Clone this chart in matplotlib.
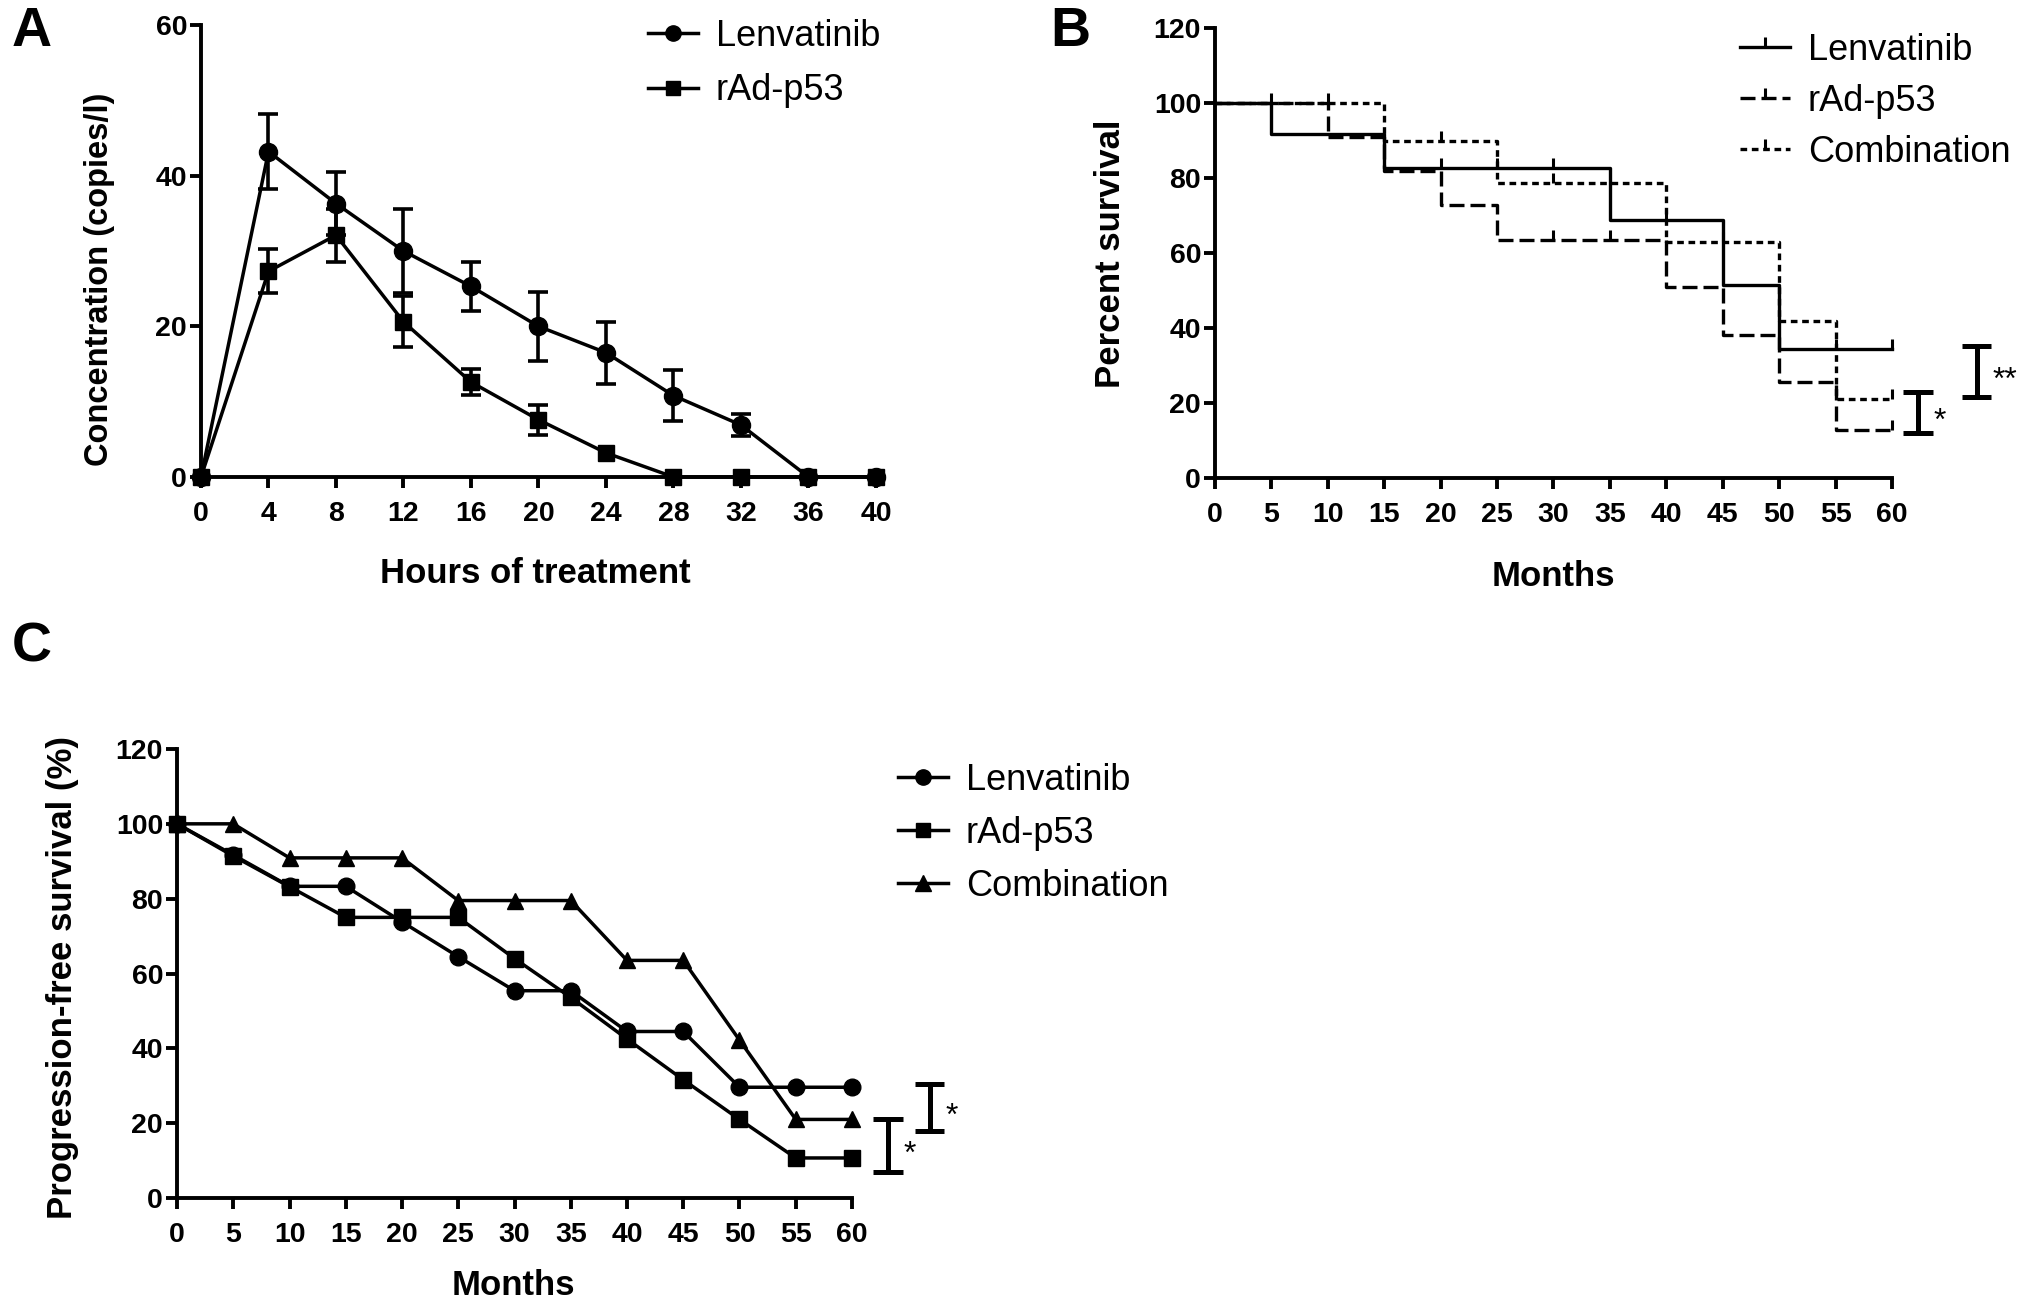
import matplotlib
matplotlib.use('Agg')
import matplotlib.pyplot as plt
from matplotlib.lines import Line2D
from matplotlib.path import Path
import numpy as np

plt.rcParams['font.family'] = ['Liberation Sans', 'DejaVu Sans']

# ---------------- Panel A data ----------------
hours = [0, 4, 8, 12, 16, 20, 24, 28, 32, 36, 40]
lenv_conc = [0, 43.2, 36.3, 30.0, 25.3, 20.0, 16.5, 10.8, 6.9, 0, 0]
lenv_err = [0, 5.0, 4.2, 5.6, 3.2, 4.6, 4.1, 3.4, 1.5, 0, 0]
rad_conc = [0, 27.3, 32.1, 20.6, 12.6, 7.6, 3.2, 0, 0, 0, 0]
rad_err = [0, 2.9, 3.5, 3.4, 1.7, 2.0, 0, 0, 0, 0, 0]
a_xticks = [0, 4, 8, 12, 16, 20, 24, 28, 32, 36, 40]
a_yticks = [0, 20, 40, 60]

# ---------------- Panel B data (Kaplan-Meier OS) ----------------
months = [0, 5, 10, 15, 20, 25, 30, 35, 40, 45, 50, 55, 60]
lenv_os = [100, 91.7, 91.7, 82.6, 82.6, 82.6, 82.6, 68.8, 68.8, 51.4, 34.3, 34.3, 34.3]
rad_os = [100, 100, 90.9, 81.8, 72.7, 63.6, 63.6, 63.6, 50.9, 38.2, 25.5, 12.7, 12.7]
comb_os = [100, 100, 100, 90.0, 90.0, 78.8, 78.8, 78.8, 63.0, 63.0, 42.0, 21.0, 21.0]
lenv_censor = [20, 25, 30, 40, 55, 60]
rad_censor = [5, 30, 35, 60]
comb_censor = [10, 20, 30, 45, 60]
b_sig = [(62.3, 11.9, 23.0, '*'), (67.5, 21.7, 35.1, '**')]

# ---------------- Panel C data (PFS) ----------------
lenv_pfs = [100, 91.7, 83.3, 83.3, 73.8, 64.5, 55.4, 55.4, 44.5, 44.5, 29.6, 29.6, 29.6]
rad_pfs = [100, 91.4, 83.2, 75.0, 75.0, 75.0, 64.0, 53.6, 42.5, 31.6, 21.0, 10.7, 10.7]
comb_pfs = [100, 100, 90.9, 90.9, 90.9, 79.5, 79.5, 79.5, 63.5, 63.5, 42.2, 21.0, 21.0]
c_sig = [(63.2, 6.9, 21.1, '*'), (66.9, 17.9, 30.6, '*')]

surv_xticks = [0, 5, 10, 15, 20, 25, 30, 35, 40, 45, 50, 55, 60]
surv_yticks = [0, 20, 40, 60, 80, 100, 120]

W, H = 2031, 1310
fig = plt.figure(figsize=(W / 100, H / 100), dpi=100)

SPINE_LW = 2.8
LINE_LW = 2.5
TICK_FS = 20.5
LABEL_FS = 25
LEG_FS = 26


def style_axes(ax, xticks, yticks, xlim, ylim):
    ax.set_xlim(*xlim)
    ax.set_ylim(*ylim)
    ax.set_xticks(xticks)
    ax.set_yticks(yticks)
    for s in ['top', 'right']:
        ax.spines[s].set_visible(False)
    for s in ['left', 'bottom']:
        ax.spines[s].set_linewidth(SPINE_LW)
    ax.tick_params(axis='both', direction='out', length=8, width=SPINE_LW,
                   labelsize=TICK_FS)
    ax.tick_params(axis='x', pad=9)
    ax.tick_params(axis='y', pad=2)
    for lab in ax.get_xticklabels() + ax.get_yticklabels():
        lab.set_fontweight('bold')


def set_labels(ax, xlabel, ylabel, xpos, ypos, yfs=LABEL_FS):
    ax.set_xlabel(xlabel, fontsize=LABEL_FS, fontweight='bold')
    ax.set_ylabel(ylabel, fontsize=yfs, fontweight='bold')
    ax.xaxis.set_label_coords(*xpos)
    ax.yaxis.set_label_coords(*ypos)
    ax.xaxis.label.set_verticalalignment('center')
    ax.yaxis.label.set_verticalalignment('center')


def legend(handles, labels, anchor, spacing=0.54):
    fig.legend(handles, labels, loc='upper left', bbox_to_anchor=anchor,
               bbox_transform=fig.transFigure, frameon=False,
               handlelength=1.38, handletextpad=0.5, labelspacing=spacing,
               borderpad=0, borderaxespad=0, fontsize=LEG_FS, numpoints=1)


def sig_bracket(ax, x, lo, hi, label, half=1.3, tx=1.4):
    kw = dict(color='k', lw=3.6, clip_on=False, solid_capstyle='butt')
    ax.plot([x, x], [lo, hi], **kw)
    ax.plot([x - half, x + half], [lo, lo], **kw)
    ax.plot([x - half, x + half], [hi, hi], **kw)
    ax.text(x + tx, (lo + hi) / 2 - 2.5, label, fontsize=23, ha='left', va='center')


# ================= Panel A =================
axA = fig.add_axes([201 / W, 1 - 477 / H, 675 / W, 452 / H])
style_axes(axA, a_xticks, a_yticks, (0, 40), (0, 60))
for xs, ys, es, mk, ms in [(hours, lenv_conc, lenv_err, 'o', 13),
                           (hours, rad_conc, rad_err, 's', 11.5)]:
    axA.plot(xs, ys, color='k', lw=LINE_LW, marker=mk, ms=ms, clip_on=False, zorder=4)
    idx = [i for i, e in enumerate(es) if e > 0]
    axA.errorbar([xs[i] for i in idx], [ys[i] for i in idx], yerr=[es[i] for i in idx],
                 fmt='none', ecolor='k', elinewidth=2.6, capsize=7, capthick=2.6,
                 clip_on=False, zorder=3)
set_labels(axA, 'Hours of treatment', 'Concentration (copies/l)',
           (0.495, -0.214), (-0.150, 0.437), yfs=23.5)
legend([Line2D([], [], color='k', lw=LINE_LW, marker='o', ms=11),
        Line2D([], [], color='k', lw=LINE_LW, marker='s', ms=10)],
       ['Lenvatinib', 'rAd-p53'], (648 / W, 1 - 19 / H))

# ================= Panel B =================
axB = fig.add_axes([1215 / W, 1 - 478 / H, 677 / W, 450 / H])
style_axes(axB, surv_xticks, surv_yticks, (0, 60), (0, 120))
tick_marker = Path([(0, 0), (0, 1)], [Path.MOVETO, Path.LINETO])
B_LW = 2.4
styles = [(lenv_os, lenv_censor, '-', None),
          (rad_os, rad_censor, '--', (4.5, 1.8)),
          (comb_os, comb_censor, ':', (2.0, 1.4))]
proxies = []
for ys, cens, ls, dash in styles:
    kw = dict(color='k', lw=B_LW, drawstyle='steps-post', clip_on=False, zorder=3)
    if dash is not None:
        kw['dashes'] = dash
    axB.plot(months, ys, **kw)
    cy = [ys[months.index(c)] for c in cens]
    axB.plot(cens, cy, linestyle='none', marker=tick_marker, ms=14, mew=2.2,
             mec='k', mfc='none', clip_on=False, zorder=4)
    pk = dict(color='k', lw=B_LW, marker=tick_marker, ms=14, mew=2.2, mec='k', mfc='none')
    if dash is not None:
        pk['dashes'] = dash
    proxies.append(Line2D([], [], **pk))
for x, lo, hi, lab in b_sig:
    sig_bracket(axB, x, lo, hi, lab)
set_labels(axB, 'Months', 'Percent survival', (0.50, -0.218), (-0.154, 0.498))
legend(proxies, ['Lenvatinib', 'rAd-p53', 'Combination'], (1740 / W, 1 - 33 / H),
       spacing=0.44)

# ================= Panel C =================
axC = fig.add_axes([177 / W, 1 - 1198 / H, 675 / W, 449 / H])
style_axes(axC, surv_xticks, surv_yticks, (0, 60), (0, 120))
for ys, mk, ms in [(comb_pfs, '^', 12), (lenv_pfs, 'o', 12), (rad_pfs, 's', 11)]:
    axC.plot(months, ys, color='k', lw=LINE_LW, marker=mk, ms=ms, clip_on=False, zorder=4)
for x, lo, hi, lab in c_sig:
    sig_bracket(axC, x, lo, hi, lab)
set_labels(axC, 'Months', 'Progression-free survival (%)', (0.499, -0.194), (-0.170, 0.490))
legend([Line2D([], [], color='k', lw=LINE_LW, marker='o', ms=11),
        Line2D([], [], color='k', lw=LINE_LW, marker='s', ms=10),
        Line2D([], [], color='k', lw=LINE_LW, marker='^', ms=11)],
       ['Lenvatinib', 'rAd-p53', 'Combination'], (898 / W, 1 - 763 / H), spacing=0.5)

# Panel letters
for letter, (px, py) in zip(['A', 'B', 'C'], [(32, 32), (1070, 32), (32, 648)]):
    fig.text(px / W, 1 - py / H, letter, fontsize=40, fontweight='bold',
             ha='center', va='center')

fig.savefig('out.png', dpi=100)
